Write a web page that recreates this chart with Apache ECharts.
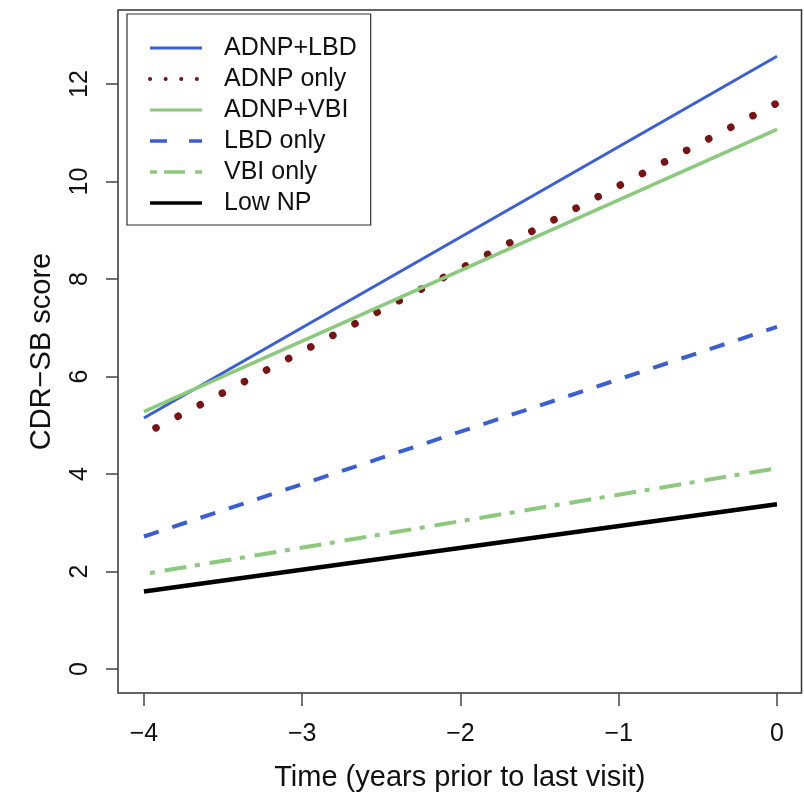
<!DOCTYPE html>
<html>
<head>
<meta charset="utf-8">
<script src="https://cdn.jsdelivr.net/npm/echarts@6/dist/echarts.min.js"></script>
<style>
  html, body { margin: 0; padding: 0; background: #fff; }
  #chart { width: 804px; height: 794px; }
</style>
</head>
<body>
<div id="chart"></div>
<script>
// time points (years prior to last visit)
var times = [-4, 0];
var groups = ['ADNP+LBD', 'ADNP only', 'ADNP+VBI', 'LBD only', 'VBI only', 'Low NP'];
// fitted CDR-SB at the two ends
var adnpLbd = [5.15, 12.57];
var adnpOnly = [4.82, 11.61];
var adnpVbi = [5.28, 11.07];
var lbdOnly = [2.72, 7.02];
var vbiOnly = [1.95, 4.12];
var lowNp = [1.59, 3.38];
var xTicks = [-4, -3, -2, -1, 0];
var yTicks = [0, 2, 4, 6, 8, 10, 12];

var font = 'Liberation Sans, Arial, sans-serif';
var noMark = { color: 'rgba(0,0,0,0)', borderColor: 'rgba(0,0,0,0)', borderWidth: 0 };

function pts(vals) {
    return times.map(function (t, i) { return [t, vals[i]]; });
}

var myChart = echarts.init(document.getElementById('chart'));
myChart.setOption({
    animation: false,
    backgroundColor: '#fff',
    grid: {
        left: 118, right: 2.5, top: 10, bottom: 101,
        outerBoundsMode: 'none',
        containLabel: false,
        show: true,
        borderColor: '#333',
        borderWidth: 1.5
    },
    legend: {
        orient: 'vertical',
        left: 127,
        top: 14,
        padding: [21, 14, 9, 21],
        borderColor: '#333',
        borderWidth: 1.2,
        backgroundColor: '#fff',
        itemWidth: 52,
        itemHeight: 14,
        itemGap: 5,
        itemStyle: noMark,
        textStyle: {
            fontFamily: font,
            fontSize: 25,
            color: '#111',
            lineHeight: 26,
            padding: [0, 0, 0, 17]
        },
        data: [
            { name: 'ADNP+LBD', itemStyle: noMark, lineStyle: { width: 3 } },
            { name: 'ADNP only', itemStyle: noMark, lineStyle: { width: 4, type: [0.1, 15.5], cap: 'round', dashOffset: 0 } },
            { name: 'ADNP+VBI', itemStyle: noMark, lineStyle: { width: 3 } },
            { name: 'LBD only', itemStyle: noMark, lineStyle: { width: 3.5, type: [17, 22], dashOffset: 0 } },
            { name: 'VBI only', itemStyle: noMark, lineStyle: { width: 3.5, type: [7, 7, 21, 10], dashOffset: 0 } },
            { name: 'Low NP', itemStyle: noMark, lineStyle: { width: 3.5 } }
        ]
    },
    xAxis: {
        type: 'value',
        min: -4.164,
        max: 0.155,
        name: 'Time (years prior to last visit)',
        nameLocation: 'middle',
        nameGap: 70,
        nameTextStyle: { fontFamily: font, fontSize: 29, color: '#111' },
        axisLine: { show: false, onZero: false },
        splitLine: { show: false },
        axisTick: {
            show: true,
            length: 13,
            customValues: xTicks,
            lineStyle: { color: '#444', width: 1.5 }
        },
        axisLabel: {
            customValues: xTicks,
            margin: 29,
            fontFamily: font,
            fontSize: 25,
            color: '#111',
            formatter: function (v) { return v < 0 ? '\u2212' + Math.abs(v) : String(v); }
        }
    },
    yAxis: {
        type: 'value',
        min: -0.49,
        max: 13.52,
        name: 'CDR\u2212SB score',
        nameLocation: 'middle',
        nameGap: 62,
        nameTextStyle: { fontFamily: font, fontSize: 29, color: '#111' },
        axisLine: { show: false, onZero: false },
        splitLine: { show: false },
        axisTick: {
            show: true,
            length: 12,
            customValues: yTicks,
            lineStyle: { color: '#444', width: 1.5 }
        },
        axisLabel: {
            customValues: yTicks,
            rotate: 90,
            margin: 25,
            fontFamily: font,
            fontSize: 25,
            color: '#111'
        }
    },
    series: [{
        name: 'ADNP+LBD',
        type: 'line',
        data: pts(adnpLbd),
        symbol: 'none',
        lineStyle: { color: '#3C5FCF', width: 3 },
        itemStyle: { color: '#3C5FCF' }
    }, {
        name: 'ADNP only',
        type: 'line',
        data: pts(adnpOnly),
        symbol: 'none',
        lineStyle: { color: '#761515', width: 7.5, type: [0.1, 24.85], cap: 'round', dashOffset: 11.4 },
        itemStyle: { color: '#761515' }
    }, {
        name: 'ADNP+VBI',
        type: 'line',
        data: pts(adnpVbi),
        symbol: 'none',
        lineStyle: { color: '#8CC97E', width: 3.5 },
        itemStyle: { color: '#8CC97E' }
    }, {
        name: 'LBD only',
        type: 'line',
        data: pts(lbdOnly),
        symbol: 'none',
        lineStyle: { color: '#3C5FCF', width: 4, type: [15.5, 14.3] },
        itemStyle: { color: '#3C5FCF' }
    }, {
        name: 'VBI only',
        type: 'line',
        data: pts(vbiOnly),
        symbol: 'none',
        lineStyle: { color: '#8CC97E', width: 4, type: [5, 10, 22, 8.6], dashOffset: 39.6 },
        itemStyle: { color: '#8CC97E' }
    }, {
        name: 'Low NP',
        type: 'line',
        data: pts(lowNp),
        symbol: 'none',
        lineStyle: { color: '#000', width: 4.5 },
        itemStyle: { color: '#000' }
    }]
});
</script>
</body>
</html>
